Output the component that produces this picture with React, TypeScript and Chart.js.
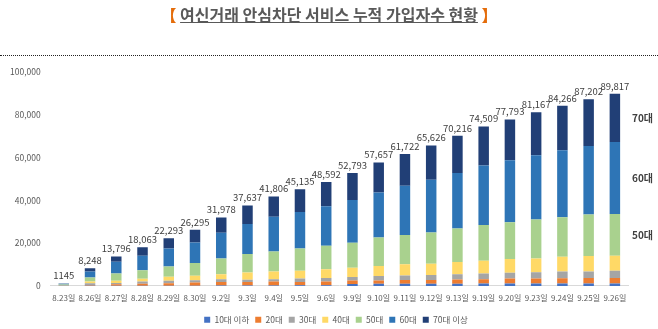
import React, { useEffect, useRef } from "react";
import { Chart, registerables } from "chart.js";

Chart.register(...registerables);

const categories = ["8.23일", "8.26일", "8.27일", "8.28일", "8.29일", "8.30일", "9.2일", "9.3일", "9.4일", "9.5일", "9.6일", "9.9일", "9.10일", "9.11일", "9.12일", "9.13일", "9.19일", "9.20일", "9.23일", "9.24일", "9.25일", "9.26일"];

const totals = [1145, 8248, 13796, 18063, 22293, 26295, 31978, 37637, 41806, 45135, 48592, 52793, 57657, 61722, 65626, 70216, 74509, 77793, 81167, 84266, 87202, 89817];
const totalLabels = ["1145", "8,248", "13,796", "18,063", "22,293", "26,295", "31,978", "37,637", "41,806", "45,135", "48,592", "52,793", "57,657", "61,722", "65,626", "70,216", "74,509", "77,793", "81,167", "84,266", "87,202", "89,817"];

const teensUnder = [20, 50, 50, 50, 50, 100, 150, 200, 200, 300, 300, 900, 1000, 1000, 1000, 1000, 1100, 1100, 1100, 1100, 1100, 1100];
const twenties = [60, 300, 700, 1000, 1200, 1460, 1730, 1680, 1800, 1580, 1720, 1660, 1560, 1720, 1720, 2000, 2000, 2340, 2340, 2500, 2650, 2650];
const thirties = [90, 900, 650, 950, 1100, 1100, 1250, 940, 1120, 1560, 1730, 1570, 2030, 2200, 2340, 2400, 2650, 2660, 2980, 3130, 2980, 3290];
const forties = [250, 800, 1000, 1400, 1880, 2030, 2350, 3420, 3570, 3600, 4080, 4380, 4700, 5170, 5310, 5800, 5950, 6420, 6410, 6880, 7200, 7040];
const fifties = [200, 1900, 3400, 3900, 4850, 5970, 7350, 8640, 9390, 10470, 10950, 11720, 13290, 13750, 14550, 15600, 16760, 17200, 18160, 18460, 19400, 19580];
const sixties = [400, 2800, 5500, 6750, 8430, 9670, 12050, 14080, 16290, 17090, 18450, 19900, 21120, 23010, 24750, 26000, 27840, 28970, 30040, 31310, 32070, 33620];
const seventiesPlus = [125, 1498, 2496, 4013, 4783, 5965, 7098, 8677, 9436, 10535, 11362, 12663, 13957, 14872, 15956, 17416, 18209, 19103, 20137, 20886, 21802, 22537];

const seriesNames = ["10대 이하", "20대", "30대", "40대", "50대", "60대", "70대 이상"];
const seriesColors = ["#4472C4", "#ED7D31", "#A5A5A5", "#FFD966", "#A9D18E", "#2E75B6", "#213F76"];
const yTicks = [0, 20000, 40000, 60000, 80000, 100000];

// labels drawn at right of the last bar, mapped to dataset indices
const sideLabels = [
  { text: "70대", dataset: 6 },
  { text: "60대", dataset: 5 },
  { text: "50대", dataset: 4 },
];

const FONT = '"Noto Sans CJK KR", "Noto Sans", sans-serif';

const totalsPlugin = {
  id: "totals",
  afterLayout(chart: any) {
    const lg = chart.legend;
    if (lg) {
      lg.left += 22;
      lg.right += 22;
    }
  },
  afterDatasetsDraw(chart: any) {
    const ctx = chart.ctx;
    const top = chart.getDatasetMeta(chart.data.datasets.length - 1);
    ctx.save();
    ctx.font = `9.5px ${FONT}`;
    ctx.fillStyle = "#404040";
    ctx.textAlign = "center";
    ctx.textBaseline = "bottom";
    top.data.forEach((bar: any, i: number) => {
      const y = chart.scales.y.getPixelForValue(totals[i]);
      ctx.fillText(totalLabels[i], bar.x, y - 3);
    });
    ctx.font = `bold 10px ${FONT}`;
    ctx.textAlign = "left";
    ctx.textBaseline = "middle";
    const last = categories.length - 1;
    sideLabels.forEach((s) => {
      const el = chart.getDatasetMeta(s.dataset).data[last] as any;
      const yc = (el.y + el.base) / 2;
      ctx.fillText(s.text, chart.chartArea.right + 4, yc);
    });
    ctx.restore();
  },
};

export default function App() {
  const ref = useRef<HTMLCanvasElement>(null);
  useEffect(() => {
    document.body.style.margin = "0";
    const datasetsData = [teensUnder, twenties, thirties, forties, fifties, sixties, seventiesPlus];
    const chart = new Chart(ref.current!, {
      type: "bar",
      data: {
        labels: categories,
        datasets: datasetsData.map((d, i) => ({
          label: seriesNames[i],
          data: d,
          backgroundColor: seriesColors[i],
          borderWidth: 0,
          categoryPercentage: 0.8,
          barPercentage: 0.5,
        })),
      },
      options: {
        animation: false,
        responsive: false,
        maintainAspectRatio: false,
        layout: { padding: { left: 0, right: 30, top: 72, bottom: -5 } },
        plugins: {
          title: { display: false },
          tooltip: { enabled: false },
          legend: {
            position: "bottom",
            labels: {
              boxWidth: 6,
              boxHeight: 6,
              padding: 6,
              color: "#595959",
              font: { size: 8.5, family: FONT },
            },
          },
        },
        scales: {
          x: {
            stacked: true,
            grid: { display: false, drawTicks: false },
            border: { color: "#D9D9D9" },
            ticks: { color: "#595959", font: { size: 8, family: FONT }, maxRotation: 0, autoSkip: false, padding: 7 },
          },
          y: {
            stacked: true,
            min: 0,
            max: 100000,
            afterBuildTicks: (axis: any) => {
              axis.ticks = yTicks.map((v) => ({ value: v }));
            },
            grid: { display: false, drawTicks: false },
            border: { display: false },
            ticks: {
              color: "#595959",
              font: { size: 8.5, family: FONT },
              padding: 10,
              callback: (v: any) => Number(v).toLocaleString("en-US"),
            },
          },
        },
      },
      plugins: [totalsPlugin],
    });
    return () => chart.destroy();
  }, []);

  return (
    <div style={{ position: "relative", width: 658, height: 329, background: "#fff", overflow: "hidden" }}>
      <canvas ref={ref} width={658} height={329} style={{ position: "absolute", left: 0, top: 0 }} />
      <div
        style={{
          position: "absolute",
          top: 3,
          left: 0,
          width: 658,
          textAlign: "center",
          fontFamily: FONT,
          fontWeight: 700,
          fontSize: 16,
          color: "#595959",
          lineHeight: "22px",
        }}
      >
        <span style={{ color: "#E46C0A" }}>【</span>{" "}
        <span style={{ textDecoration: "underline" }}>여신거래 안심차단 서비스 누적 가입자수 현황</span>{" "}
        <span style={{ color: "#E46C0A" }}>】</span>
      </div>
      <div style={{ position: "absolute", top: 55, left: 0, width: 658, borderTop: "1px dotted #222" }} />
    </div>
  );
}
